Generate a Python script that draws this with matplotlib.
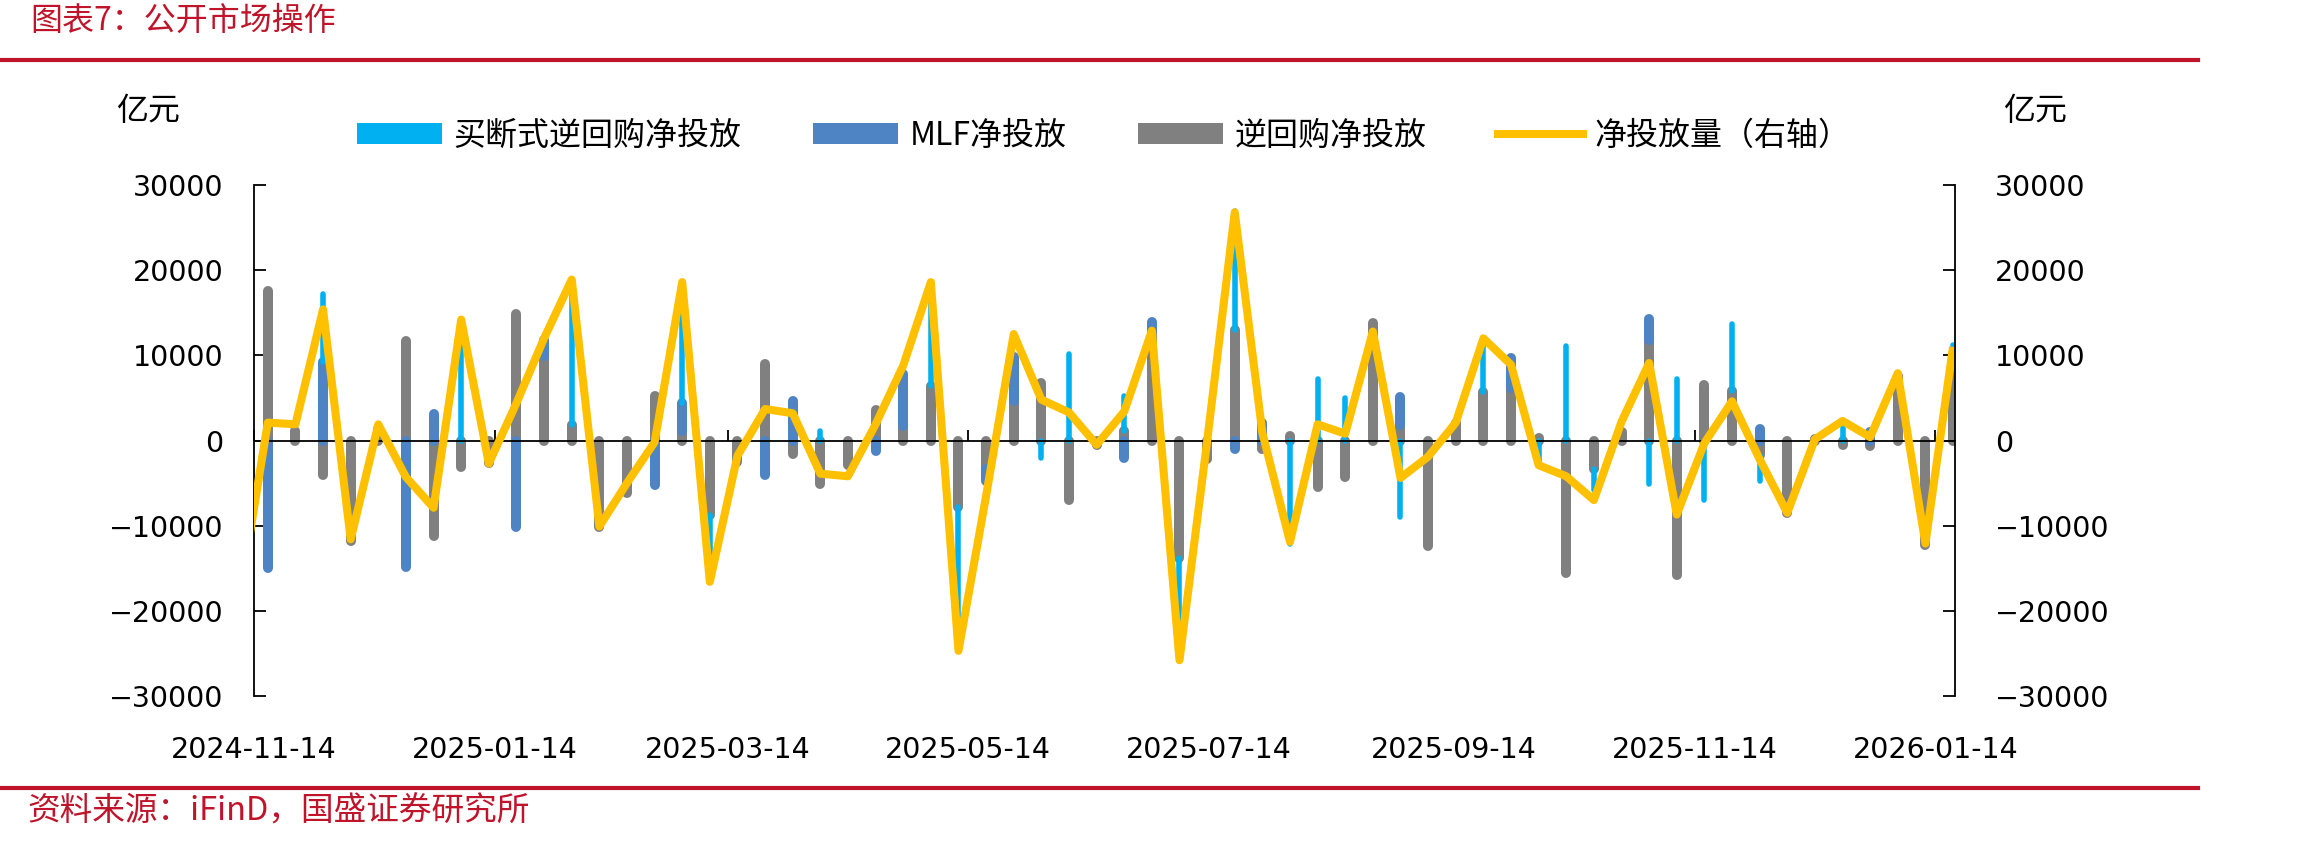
import matplotlib

matplotlib.use("Agg")
import matplotlib.dates as mdates
import matplotlib.pyplot as plt
import numpy as np
import pandas as pd
from matplotlib.lines import Line2D
from matplotlib.patches import Patch

# weekly data, 2024-11-17 .. 2026-01-18 (亿元)
dates = pd.date_range("2024-11-17", periods=62, freq="7D")

reverse_repo = [
    17500, 1100, -4100, -11800, 1300, 11700, -11200, -3100, -2700, 14800,
    9900, 1800, -10200, -6200, 5200, 1100, -8800, -2500, 9000, -1600,
    -5100, -2900, 3600, 1700, 6400, -7800, -3400, 4600, 6800, -7000,
    -500, 1100, 12900, -13800, -2200, 13000, -1000, 500, -5500, -4300,
    13800, 1800, -12400, 2000, 5700, 6200, 300, -15600, -3400, 1000,
    11800, -15800, 6500, 5800, -1700, -8500, 200, -500, -700, 7600,
    -12300, 8300,
]
mlf = [
    -15000, 0, 9200, 0, 0, -14800, 3100, 0, 0, -10200,
    1900, 0, 0, 0, -5200, 3300, 0, 0, -4000, 4600,
    0, 0, -1200, 6100, 0, 0, -1300, 5200, 0, 0,
    0, -2100, 1000, 0, 0, -1000, 2000, 0, 0, 0,
    0, 3300, 0, 0, 0, 3500, 0, 0, 0, 0,
    2500, 0, 0, 0, 1300, 0, 0, 0, 1000, 0,
    0, 0,
]
outright_repo = [
    0, 0, 8000, 0, 0, 0, 0, 14000, 0, 0,
    0, 17000, 0, 0, 0, 14000, -7800, 0, 0, 0,
    1100, 0, 0, 0, 12200, -16700, 0, 0, -2000, 10100,
    0, 4100, 0, -11700, 0, 14000, 0, -12100, 7200, 5000,
    0, -9000, 0, 0, 5400, 0, -2800, 11100, -2400, 0,
    -5100, 7200, -7000, 7900, -3000, 0, 0, 1500, 0, 0,
    0, 2900,
]
# net injection (right axis); first point is the week before the window
line_dates = pd.DatetimeIndex(["2024-11-10"]).append(dates)
net_injection = [
    -18000,
    2100, 1900, 15400, -11600, 1900, -4300, -7900, 14200, -2700, 4400,
    12000, 18900, -10100, -5000, -200, 18600, -16600, -1800, 3700, 3200,
    -3900, -4200, 1900, 8800, 18600, -24700, -6500, 12500, 4800, 3300,
    -500, 3400, 12900, -25800, -100, 26800, 900, -11900, 1900, 800,
    12800, -4400, -1900, 2100, 12000, 8900, -2900, -4200, -7000, 2200,
    9100, -8700, -300, 4600, -2200, -8500, 150, 2300, 400, 7900,
    -12100, 11000,
]

C_OUTRIGHT = "#00B0F0"
C_MLF = "#4F84C4"
C_REPO = "#808080"
C_LINE = "#FFC000"
RED = "#C0142A"
CJK = ["Noto Sans CJK SC", "DejaVu Sans"]

W, H = 2316, 842
fig = plt.figure(figsize=(W / 100, H / 100), dpi=100)
ax = fig.add_axes([254 / W, 1 - 696 / H, (1955 - 254) / W, (696 - 185) / H])

x = mdates.date2num(dates) + 0.5
pos_base = np.zeros(len(x))
neg_base = np.zeros(len(x))
for vals, color, lw in [
    (reverse_repo, C_REPO, 7.2),
    (mlf, C_MLF, 7.2),
    (outright_repo, C_OUTRIGHT, 4.0),
]:
    v = np.asarray(vals, dtype=float)
    base = np.where(v >= 0, pos_base, neg_base)
    top = base + v
    m = v != 0
    ax.vlines(x[m], base[m], top[m], colors=color, linewidth=lw, capstyle="round")
    pos_base = np.where(v > 0, top, pos_base)
    neg_base = np.where(v < 0, top, neg_base)

ax.set_xlim(mdates.date2num(pd.Timestamp("2024-11-14")), mdates.date2num(pd.Timestamp("2026-01-19")))
ax.set_ylim(-30000, 30000)
ax.set_yticks(range(-30000, 30001, 10000))
ax.xaxis.set_major_locator(mdates.MonthLocator(bymonth=[1, 3, 5, 7, 9, 11], bymonthday=14))
ax.xaxis.set_major_formatter(mdates.DateFormatter("%Y-%m-%d"))
ax.spines["top"].set_visible(False)
ax.spines["right"].set_visible(False)
ax.spines["bottom"].set_position(("data", 0))
for s in ("left", "bottom"):
    ax.spines[s].set_linewidth(1.3)
ax.tick_params(axis="x", direction="in", length=8, width=1.3, pad=213, labelsize=20.5)
ax.tick_params(axis="y", direction="in", length=8.5, width=1.3, pad=22, labelsize=20.5)

ax2 = ax.twinx()
ax2.plot(mdates.date2num(line_dates) + 0.5, net_injection, color=C_LINE, lw=5.8,
         solid_joinstyle="round", solid_capstyle="butt")
ax2.set_ylim(-30000, 30000)
ax2.set_yticks(range(-30000, 30001, 10000))
for s in ("left", "top", "bottom"):
    ax2.spines[s].set_visible(False)
ax2.spines["right"].set_linewidth(1.3)
ax2.tick_params(axis="y", direction="in", length=8.5, width=1.3, pad=29, labelsize=20.5)

handles = [
    Patch(facecolor=C_OUTRIGHT, edgecolor="none"),
    Patch(facecolor=C_MLF, edgecolor="none"),
    Patch(facecolor=C_REPO, edgecolor="none"),
    Line2D([], [], color=C_LINE, lw=5.8),
]
labels = ["买断式逆回购净投放", "MLF净投放", "逆回购净投放", "净投放量（右轴）"]
fig.legend(handles, labels, loc="center", bbox_to_anchor=(1104 / W, 1 - 136 / H), ncol=4,
           frameon=False, prop={"family": CJK, "size": 23}, handlelength=2.66,
           handleheight=0.63, handletextpad=0.35, columnspacing=2.25)

fig.text(148 / W, 1 - 111 / H, "亿元", ha="center", va="center", fontsize=23, family=CJK)
fig.text(2035 / W, 1 - 111 / H, "亿元", ha="center", va="center", fontsize=23, family=CJK)

fig.text(30 / W, 1 - 21 / H, "图表7：公开市场操作", ha="left", va="center", fontsize=23,
         color=RED, family=CJK)
fig.text(27 / W, 1 - 812 / H, "资料来源：iFinD，国盛证券研究所", ha="left", va="center",
         fontsize=23.5, color=RED, family=CJK)
fig.add_artist(Line2D([0, 2198 / W], [1 - 60 / H] * 2, color=RED, lw=3))
fig.add_artist(Line2D([0, 2198 / W], [1 - 788 / H] * 2, color=RED, lw=3))

fig.savefig("out.png", dpi=100, facecolor="white")
